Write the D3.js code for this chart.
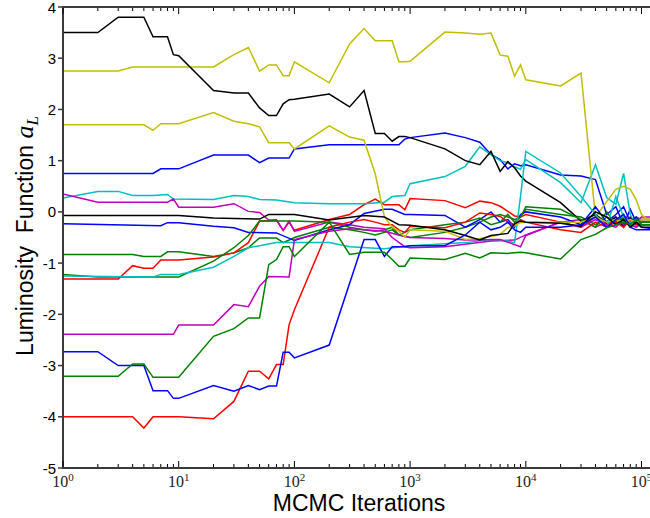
<!DOCTYPE html>
<html>
<head>
<meta charset="utf-8">
<script src="https://cdn.jsdelivr.net/npm/d3@7"></script>
<style>
  html, body { margin: 0; padding: 0; background: #fff; }
  svg { display: block; }
</style>
</head>
<body>
<svg id="chart" width="650" height="518"></svg>
<script>
// ---- axis ticks ----
const yTickValues = [-5, -4, -3, -2, -1, 0, 1, 2, 3, 4];
const xDecadeExponents = [0, 1, 2, 3, 4, 5];

// ---- chain traces: [iteration, a_L] vertices ----
const blue1 = [[1,0.75],[6,0.75],[7,0.84],[10,0.84],[20,1.11],[40,1.11],[50,0.96],[60,1.05],[90,1.05],[100,1.23],[200,1.31],[800,1.31],[900,1.42],[1000,1.45],[2000,1.54],[3000,1.45],[4000,1.36],[5000,1.12],[6000,1.02],[7000,0.84],[8000,0.94],[9000,0.9],[10000,0.92],[20000,0.72],[30000,0.7],[40000,0.63],[50000,-0.05],[60000,0.1],[70000,-0.25],[80000,0.05],[90000,-0.2],[100000,-0.3],[120000,-0.32]];
const green1 = [[1,-0.83],[4,-0.83],[5,-0.87],[7,-0.87],[8,-0.78],[10,-0.78],[20,-0.87],[30,-0.8],[40,-0.7],[50,-0.51],[70,-0.51],[80,-0.6],[90,-0.55],[100,-0.5],[200,-0.3],[300,-0.35],[400,-0.4],[500,-0.45],[600,-0.4],[700,-0.35],[800,-0.45],[1000,-0.5],[2000,-0.4],[3000,-0.3],[4000,-0.2],[5000,-0.1],[6000,-0.05],[7000,-0.1],[8000,-0.15],[9000,-0.1],[10000,0.05],[20000,-0.05],[30000,-0.1],[40000,-0.25],[50000,-0.1],[60000,-0.2],[70000,-0.05],[80000,-0.25],[90000,-0.1],[100000,-0.15],[120000,-0.15]];
const red1 = [[1,-1.31],[3,-1.31],[4,-1.05],[5,-1.1],[6,-1.1],[7,-0.94],[10,-0.94],[20,-0.88],[30,-0.8],[40,-0.6],[50,-0.18],[60,-0.18],[70,-0.16],[80,-0.36],[90,-0.2],[100,-0.36],[200,-0.15],[300,-0.05],[400,0.14],[500,0.25],[600,0.14],[800,0.14],[900,0.04],[1000,0.26],[2000,0.22],[3000,0.08],[4000,0.21],[5000,0.18],[6000,0.11],[7000,0.01],[8000,-0.08],[9000,-0.1],[10000,-0.05],[20000,-0.2],[30000,-0.3],[40000,-0.1],[50000,-0.25],[60000,-0.15],[70000,-0.2],[80000,-0.1],[90000,-0.2],[100000,-0.15],[120000,-0.15]];
const cyan1 = [[1,0.27],[2,0.4],[3,0.4],[4,0.32],[6,0.32],[8,0.34],[9,0.25],[20,0.24],[30,0.32],[40,0.3],[50,0.24],[70,0.23],[100,0.18],[200,0.16],[400,0.16],[600,0.19],[700,0.3],[900,0.32],[1000,0.55],[2000,0.69],[3000,0.89],[4000,1.27],[5000,1.12],[6000,1.0],[7000,0.96],[8000,0.88],[9000,0.83],[10000,1.02],[20000,0.57],[30000,0.18],[40000,0.92],[50000,0.28],[60000,0.15],[70000,0.75],[80000,-0.05],[90000,-0.3],[100000,-0.25],[120000,-0.25]];
const magenta1 = [[1,0.35],[2,0.19],[8,0.19],[9,0.25],[10,0.09],[20,0.09],[30,0.16],[40,0.01],[50,-0.01],[60,-0.16],[70,-0.16],[80,-0.36],[90,-0.18],[100,-0.38],[200,-0.2],[300,-0.25],[400,-0.3],[600,-0.33],[700,-0.5],[900,-0.68],[1000,-0.7],[2000,-0.68],[5000,-0.57],[8000,-0.55],[10000,-0.45],[20000,-0.2],[30000,-0.15],[40000,-0.3],[50000,-0.2],[60000,-0.1],[70000,-0.25],[80000,-0.15],[90000,-0.2],[100000,-0.1],[120000,-0.1]];
const yellow1 = [[1,2.75],[3,2.75],[4,2.83],[20,2.83],[30,3.07],[40,3.21],[50,2.75],[60,2.87],[70,2.87],[80,2.66],[90,2.66],[100,2.93],[200,2.52],[300,3.28],[400,3.58],[500,3.34],[700,3.34],[800,2.93],[900,2.93],[1000,2.94],[2000,3.51],[3000,3.49],[4000,3.47],[5000,3.49],[6000,3.06],[7000,3.04],[8000,2.65],[9000,2.87],[10000,2.58],[20000,2.46],[30000,2.71],[40000,-0.1],[50000,0.2],[60000,0.44],[70000,0.5],[80000,0.44],[90000,0.24],[100000,-0.05],[120000,-0.2]];
const black1 = [[1,3.5],[2,3.5],[3,3.8],[5,3.8],[6,3.42],[8,3.42],[9,3.07],[10,3.05],[20,2.37],[30,2.32],[40,2.32],[50,2.03],[60,1.88],[70,1.88],[80,2.11],[90,2.19],[100,2.2],[200,2.3],[300,2.05],[400,2.37],[500,1.53],[600,1.53],[700,1.38],[800,1.47],[900,1.47],[1000,1.45],[2000,1.23],[3000,1.0],[4000,0.92],[5000,1.18],[6000,0.79],[7000,0.98],[8000,0.86],[9000,0.7],[10000,0.6],[20000,0.18],[30000,-0.18],[40000,-0.05],[50000,-0.22],[60000,-0.1],[70000,-0.3],[80000,-0.12],[90000,-0.25],[100000,-0.2],[120000,-0.2]];
const blue2 = [[1,-0.23],[7,-0.27],[8,-0.21],[10,-0.21],[20,-0.28],[30,-0.31],[40,-0.4],[70,-0.41],[100,-0.56],[200,-0.35],[300,-0.25],[400,-0.03],[600,0.05],[700,0.05],[900,-0.05],[1000,-0.05],[2000,-0.07],[3000,-0.3],[4000,-0.15],[5000,0.0],[6000,-0.2],[7000,-0.15],[8000,-0.3],[9000,-0.05],[10000,0.0],[20000,-0.1],[30000,-0.25],[40000,0.1],[50000,-0.2],[60000,-0.05],[70000,0.1],[80000,-0.2],[90000,-0.1],[100000,-0.25],[120000,-0.25]];
const green2 = [[1,-1.22],[2,-1.27],[10,-1.27],[20,-0.96],[30,-0.7],[40,-0.46],[50,-0.18],[100,-0.18],[200,-0.2],[300,-0.3],[400,-0.35],[500,-0.38],[600,-0.35],[700,-0.3],[800,-0.45],[900,-0.4],[1000,-0.35],[2000,-0.25],[3000,-0.2],[4000,-0.12],[5000,-0.25],[6000,-0.2],[7000,-0.05],[8000,-0.2],[9000,-0.1],[10000,0.1],[20000,0.05],[30000,-0.15],[40000,-0.3],[50000,0.0],[60000,-0.25],[70000,-0.1],[80000,-0.3],[90000,-0.2],[100000,-0.25],[120000,-0.25]];
const red2 = [[1,-4.0],[4,-4.0],[5,-4.22],[6,-4.0],[10,-4.0],[20,-4.04],[30,-3.7],[40,-3.11],[50,-3.11],[60,-3.26],[70,-2.98],[80,-2.98],[90,-2.2],[100,-1.91],[200,-0.3],[300,-0.2],[400,-0.15],[500,-0.2],[600,-0.25],[700,-0.25],[800,-0.35],[900,-0.4],[1000,-0.28],[2000,-0.31],[3000,-0.2],[4000,-0.02],[5000,-0.05],[6000,-0.09],[7000,-0.2],[8000,-0.25],[9000,-0.15],[10000,-0.2],[20000,-0.35],[30000,-0.4],[40000,-0.2],[50000,-0.3],[60000,-0.2],[70000,-0.3],[80000,-0.15],[90000,-0.25],[100000,-0.2],[120000,-0.2]];
const cyan2 = [[1,-1.25],[6,-1.27],[7,-1.22],[10,-1.22],[20,-1.08],[30,-0.87],[40,-0.7],[50,-0.66],[70,-0.6],[200,-0.6],[300,-0.68],[600,-0.72],[1000,-0.66],[2000,-0.62],[3000,-0.6],[5000,-0.54],[7000,-0.57],[8000,-0.6],[9000,0.3],[10000,1.18],[20000,0.76],[30000,0.3],[40000,-0.05],[50000,-0.3],[60000,0.3],[70000,-0.1],[80000,-0.2],[90000,-0.15],[100000,-0.2],[120000,-0.2]];
const magenta2 = [[1,-2.39],[9,-2.39],[10,-2.21],[20,-2.21],[30,-1.81],[40,-1.85],[50,-1.45],[60,-1.26],[90,-1.27],[100,-0.54],[200,-0.38],[300,-0.33],[400,-0.35],[600,-0.38],[800,-0.45],[1000,-0.5],[2000,-0.52],[3000,-0.55],[6000,-0.54],[9000,-0.68],[10000,-0.46],[20000,-0.2],[30000,-0.3],[40000,-0.15],[50000,-0.25],[60000,-0.3],[70000,-0.15],[80000,-0.25],[90000,-0.3],[100000,-0.2],[120000,-0.2]];
const yellow2 = [[1,1.7],[5,1.7],[6,1.59],[7,1.72],[10,1.72],[20,1.94],[30,1.77],[40,1.72],[50,1.66],[60,1.35],[90,1.35],[100,1.23],[200,1.68],[300,1.46],[400,1.4],[500,0.74],[550,0.3],[600,-0.1],[700,-0.3],[800,-0.38],[900,-0.49],[1000,-0.35],[2000,-0.38],[3000,-0.54],[4000,-0.52],[5000,-0.48],[6000,-0.44],[7000,-0.31],[8000,-0.27],[9000,-0.21],[10000,-0.2],[20000,-0.2],[30000,-0.2],[40000,-0.1],[50000,-0.2],[60000,-0.15],[70000,-0.2],[80000,-0.15],[90000,-0.2],[100000,-0.15],[120000,-0.15]];
const black2 = [[1,-0.07],[10,-0.07],[20,-0.12],[50,-0.14],[60,-0.05],[100,-0.05],[200,-0.16],[400,-0.07],[600,-0.1],[700,-0.18],[800,-0.25],[1000,-0.26],[2000,-0.35],[3000,-0.46],[4000,-0.55],[5000,-0.46],[7000,-0.42],[8000,-0.23],[9000,-0.18],[10000,-0.2],[20000,-0.22],[30000,-0.28],[40000,0.0],[50000,-0.1],[60000,-0.25],[70000,-0.15],[80000,-0.3],[90000,-0.2],[100000,-0.3],[120000,-0.3]];
const blue3 = [[1,-2.73],[2,-2.73],[3,-3.0],[5,-3.0],[6,-3.49],[8,-3.49],[9,-3.64],[10,-3.64],[20,-3.39],[30,-3.5],[40,-3.39],[50,-3.47],[60,-3.4],[70,-3.4],[80,-2.74],[90,-2.74],[100,-2.85],[200,-2.6],[400,-0.54],[500,-0.54],[600,-0.87],[700,-0.68],[900,-0.68],[1000,-0.66],[2000,-0.66],[3000,-0.45],[4000,-0.2],[5000,-0.35],[6000,-0.3],[7000,-0.2],[8000,-0.35],[9000,-0.4],[10000,-0.3],[20000,-0.3],[30000,-0.25],[40000,-0.1],[50000,-0.3],[60000,-0.15],[70000,-0.05],[80000,-0.3],[90000,-0.35],[100000,-0.35],[120000,-0.35]];
const green3 = [[1,-3.21],[3,-3.21],[4,-2.97],[5,-2.97],[6,-3.23],[10,-3.23],[20,-2.43],[30,-2.28],[40,-2.07],[50,-2.07],[60,-1.03],[70,-0.93],[80,-0.68],[90,-0.68],[100,-0.87],[200,-0.2],[300,-0.83],[400,-0.79],[600,-0.79],[700,-0.93],[800,-1.06],[900,-1.06],[1000,-0.9],[2000,-0.93],[3000,-0.81],[4000,-0.9],[5000,-0.8],[7000,-0.81],[9000,-0.79],[10000,-0.8],[20000,-0.92],[30000,-0.54],[40000,-0.44],[50000,-0.31],[60000,-0.25],[70000,-0.2],[80000,-0.25],[90000,-0.15],[100000,-0.2],[120000,-0.2]];

// drawing order follows the classic b, g, r, c, m, y, k colour cycle
const traces = [blue1, green1, red1, cyan1, magenta1, yellow1, black1,
                blue2, green2, red2, cyan2, magenta2, yellow2, black2,
                blue3, green3];
const traceColors = ["#0000ff", "#008000", "#ff0000", "#00bfbf", "#bf00bf", "#bfbf00", "#000000",
                     "#0000ff", "#008000", "#ff0000", "#00bfbf", "#bf00bf", "#bfbf00", "#000000",
                     "#0000ff", "#008000"];

// ---- layout ----
const svg = d3.select("#chart");
const W = 650, H = 518;
const plotLeft = 63, plotTop = 7, plotBottom = 468;

const x = d3.scaleLog().domain([1, 1e5]).range([plotLeft, 641.5]);
const y = d3.scaleLinear().domain([-5, 4]).range([plotBottom, plotTop]);

svg.append("defs").append("clipPath").attr("id", "plotClip")
  .append("rect").attr("x", plotLeft).attr("y", plotTop)
  .attr("width", W - plotLeft).attr("height", plotBottom - plotTop);

// ---- traces ----
const line = d3.line().x(d => x(d[0])).y(d => y(d[1]));
svg.append("g").attr("clip-path", "url(#plotClip)")
  .selectAll("path").data(traces).join("path")
  .attr("d", line)
  .attr("fill", "none")
  .attr("stroke", (d, i) => traceColors[i])
  .attr("stroke-width", 1.5)
  .attr("stroke-linejoin", "miter");

// ---- frame ----
const frameColor = "#3a3a3a";
const frame = svg.append("g");
frame.append("line").attr("x1", plotLeft).attr("x2", plotLeft)
  .attr("y1", plotTop).attr("y2", plotBottom + 1)
  .attr("stroke", frameColor).attr("stroke-width", 2);
frame.append("line").attr("x1", plotLeft - 1).attr("x2", W)
  .attr("y1", plotBottom).attr("y2", plotBottom)
  .attr("stroke", frameColor).attr("stroke-width", 2);
frame.append("line").attr("x1", plotLeft - 1).attr("x2", W)
  .attr("y1", plotTop).attr("y2", plotTop)
  .attr("stroke", frameColor).attr("stroke-width", 2);

// x ticks (major + minor), inward on bottom and top
const minorTicks = [];
for (let e = 0; e <= 5; e++) {
  for (let m = 2; m <= 9; m++) {
    const v = m * Math.pow(10, e);
    if (x(v) <= W) minorTicks.push(v);
  }
}
const majorTicks = xDecadeExponents.map(e => Math.pow(10, e));
const tickG = svg.append("g").attr("stroke", "#000").attr("stroke-width", 1);
tickG.selectAll("line.minB").data(minorTicks).join("line")
  .attr("x1", d => x(d)).attr("x2", d => x(d))
  .attr("y1", plotBottom - 1).attr("y2", plotBottom - 4);
tickG.selectAll("line.minT").data(minorTicks).join("line")
  .attr("x1", d => x(d)).attr("x2", d => x(d))
  .attr("y1", plotTop + 1).attr("y2", plotTop + 4);
tickG.selectAll("line.majB").data(majorTicks).join("line")
  .attr("x1", d => x(d)).attr("x2", d => x(d))
  .attr("y1", plotBottom - 1).attr("y2", plotBottom - 7);
tickG.selectAll("line.majT").data(majorTicks).join("line")
  .attr("x1", d => x(d)).attr("x2", d => x(d))
  .attr("y1", plotTop + 1).attr("y2", plotTop + 7);

// y ticks, on the outer side of the left spine
tickG.selectAll("line.yt").data(yTickValues).join("line")
  .attr("x1", plotLeft - 5).attr("x2", plotLeft)
  .attr("y1", d => y(d)).attr("y2", d => y(d))
  .attr("stroke", frameColor).attr("stroke-width", 1.5);

// y tick labels
svg.append("g").selectAll("text").data(yTickValues).join("text")
  .attr("x", 56).attr("y", d => y(d) + 5.5)
  .attr("text-anchor", "end")
  .attr("font-family", "'Liberation Sans', Arial, sans-serif")
  .attr("font-size", 15)
  .attr("fill", "#000")
  .text(d => d);

// x tick labels: 10^n
const xl = svg.append("g").selectAll("text").data(xDecadeExponents).join("text")
  .attr("x", d => x(Math.pow(10, d)))
  .attr("y", 487)
  .attr("text-anchor", "middle")
  .attr("font-family", "'Liberation Serif', 'DejaVu Serif', serif")
  .attr("font-size", 16)
  .attr("fill", "#222");
xl.append("tspan").text("10");
xl.append("tspan").attr("dy", -6).attr("font-size", 11).text(d => d);

// axis titles
svg.append("text")
  .attr("x", 359).attr("y", 511)
  .attr("text-anchor", "middle")
  .attr("font-family", "'Liberation Sans', Arial, sans-serif")
  .attr("font-size", 23)
  .attr("fill", "#000")
  .text("MCMC Iterations");

const yTitle = svg.append("text")
  .attr("transform", "translate(33,236) rotate(-90)")
  .attr("text-anchor", "middle")
  .attr("font-family", "'Liberation Sans', Arial, sans-serif")
  .attr("font-size", 23)
  .attr("fill", "#000");
yTitle.append("tspan").text("Luminosity\u00a0\u00a0Function\u00a0");
yTitle.append("tspan").attr("font-family", "'Liberation Serif', 'DejaVu Serif', serif")
  .attr("font-style", "italic").attr("font-size", 26).text("a");
yTitle.append("tspan").attr("font-family", "'Liberation Serif', 'DejaVu Serif', serif")
  .attr("font-style", "italic").attr("font-size", 17).attr("dy", 5).text("L");
</script>
</body>
</html>
